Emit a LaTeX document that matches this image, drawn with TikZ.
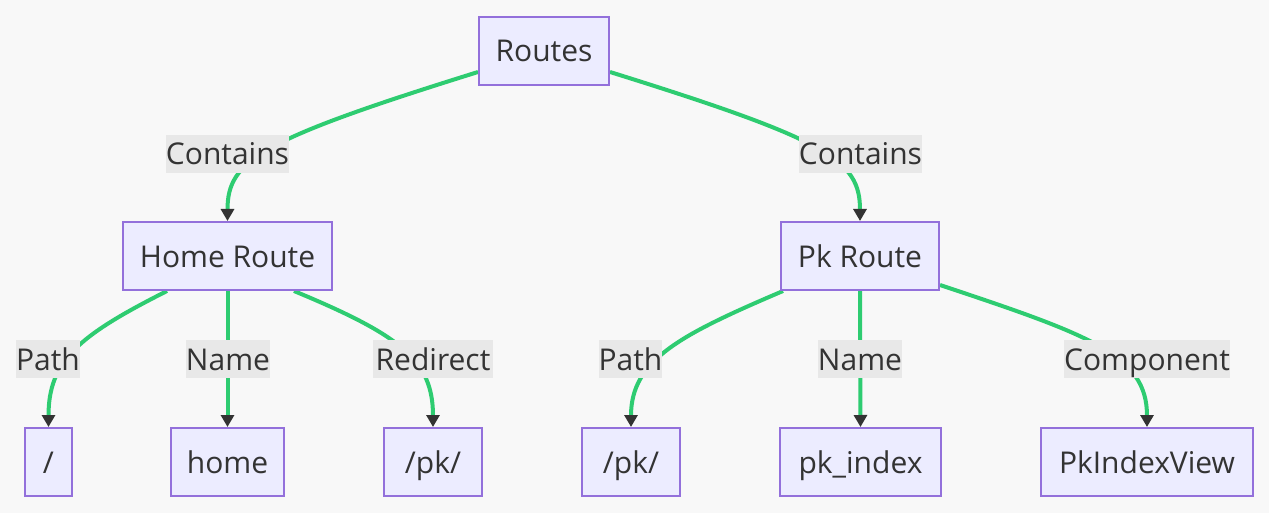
\documentclass[tikz,border=0pt]{standalone}
\usepackage{fontspec}
\setmainfont{Open Sans}
\usetikzlibrary{arrows.meta,calc}
\definecolor{bgc}{HTML}{F8F8F8}
\definecolor{boxfill}{HTML}{ECECFF}
\definecolor{boxline}{HTML}{9370DB}
\definecolor{edgec}{HTML}{2ECC71}
\definecolor{lblbg}{HTML}{E8E8E8}
\definecolor{txt}{HTML}{333333}
\pgfdeclarelayer{back}
\pgfsetlayers{back,main}
\tikzset{
  box/.style={draw=boxline, line width=2pt, fill=boxfill, text=txt, inner sep=0pt,
    minimum height=68pt, text height=22pt, text depth=0pt,
    font=\fontsize{30}{36}\selectfont},
  lbl/.style={fill=lblbg, inner sep=0pt, minimum height=38pt, text=txt,
    text height=22pt, text depth=0pt, font=\fontsize{30}{36}\selectfont},
  link/.style={draw=edgec, line width=4pt,
    -{Triangle[width=13pt,length=12pt,color=txt,fill=txt]}},
}
\begin{document}
\begin{tikzpicture}[x=1pt,y=-1pt]
\useasboundingbox (0,0) rectangle (1269,513);
% nodes
\node[box, minimum width=130pt] (routes) at (544,51) {Routes};
\node[box, minimum width=209pt] (home) at (227.5,256) {Home Route};
\node[box, minimum width=158pt] (pk) at (860,256) {Pk Route};
\node[box, minimum width=47pt] (slash) at (48.5,462) {/};
\node[box, minimum width=113pt] (homename) at (227.5,462) {home};
\node[box, minimum width=98pt] (pka) at (433,462) {/pk/};
\node[box, minimum width=98pt] (pkb) at (631,462) {/pk/};
\node[box, minimum width=161pt] (pkindex) at (860.5,462) {pk\_index};
\node[box, minimum width=212pt] (view) at (1147,462) {PkIndexView};
% labels
\node[lbl, minimum width=123pt] (l1) at (227.5,154) {Contains};
\node[lbl, minimum width=123pt] (l2) at (860.5,154) {Contains};
\node[lbl, minimum width=64pt] (l3) at (48,359) {Path};
\node[lbl, minimum width=80pt] (l4) at (228,359) {Name};
\node[lbl, minimum width=120pt] (l5) at (433,359) {Redirect};
\node[lbl, minimum width=63pt] (l6) at (630.5,359) {Path};
\node[lbl, minimum width=80pt] (l7) at (860,359) {Name};
\node[lbl, minimum width=164pt] (l8) at (1147,359) {Component};
\begin{pgfonlayer}{back}
\fill[bgc] (0,0) rectangle (1269,513);
\draw[link] ($(routes.west)+(0,21)$) .. controls (260,140) and (home.north |- 0,160) .. (home.north);
\draw[link] ($(routes.east)+(0,21)$) .. controls (828,140) and (pk.north |- 0,160) .. (pk.north);
\draw[link] ($(home.south west)+(45,0)$) .. controls (80,335) and (slash.north |- 0,360) .. (slash.north);
\draw[link] (home.south) -- (homename.north);
\draw[link] ($(home.south east)+(-39,0)$) .. controls (400,335) and (pka.north |- 0,360) .. (pka.north);
\draw[link] ($(pk.south west)+(3,0)$) .. controls (680,335) and (pkb.north |- 0,360) .. (pkb.north);
\draw[link] (pk.south) -- (pkindex.north);
\draw[link] ($(pk.east)+(0,29)$) .. controls (1090,335) and (view.north |- 0,355) .. (view.north);
\end{pgfonlayer}
\end{tikzpicture}
\end{document}
